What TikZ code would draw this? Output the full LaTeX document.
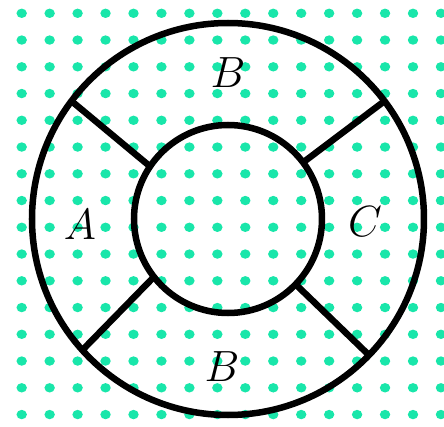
\documentclass[tikz,border=0pt]{standalone}
\usepackage{tikz}
\usetikzlibrary{shapes.geometric}
\definecolor{fdot}{HTML}{19E6AA}

\begin{document}
\begin{tikzpicture}[x=1cm, y=1cm,
  ring/.style={circle, draw=black, line width=3.7pt, inner sep=0pt, outer sep=0pt},
  spoke/.style={line width=3.7pt},
  region/.style={font=\fontsize{28}{32}\selectfont}]
\useasboundingbox (-4.56,-4.16) rectangle (4.32,4.38);
% dot grid
\foreach \i in {0,...,15}
  \foreach \j in {0,...,15}
    \fill[fdot] (-4.126+0.559*\i, 4.114-0.535*\j) ellipse (0.104 and 0.094);
% rings
\node[ring, minimum size=7.84cm] (outer) at (0,0) {};
\node[ring, minimum size=3.76cm] (inner) at (0,0) {};
% spokes between the rings
\draw[spoke] (inner.146) -- (outer.143);
\draw[spoke] (inner.37) -- (outer.37);
\draw[spoke] (inner.218) -- (outer.222);
\draw[spoke] (inner.316) -- (outer.316);
% region labels
\node[region] (btop) at (0,2.92) {$B$};
\node[region] (a) at (-2.96,-0.12) {$A$};
\node[region] (c) at (2.74,-0.06) {$C$};
\node[region] (bbot) at (-0.12,-2.96) {$B$};
\end{tikzpicture}
\end{document}
